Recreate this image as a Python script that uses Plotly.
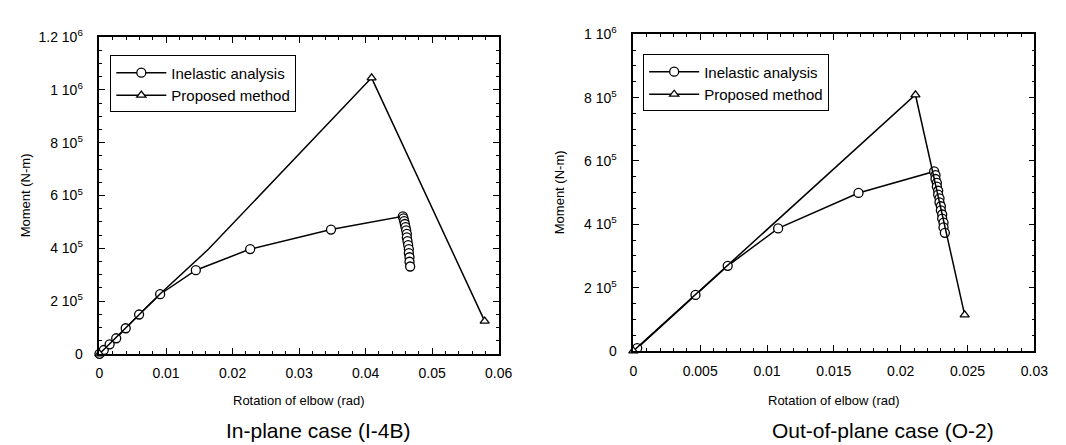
import plotly.graph_objects as go

# ---------------- data ----------------
# In-plane case (I-4B)
inplane_inelastic_x = [0.0, 0.00064, 0.00152, 0.00251, 0.00394, 0.00595, 0.00912, 0.01448, 0.02265, 0.0348,
                       0.0456, 0.0457, 0.0458, 0.0459, 0.0460, 0.0461, 0.0462, 0.0462, 0.0463, 0.0464,
                       0.0465, 0.0465, 0.0466, 0.0466, 0.0467]
inplane_inelastic_y = [0, 14.5e3, 36e3, 59e3, 97e3, 149e3, 226e3, 317e3, 397e3, 471e3,
                       521e3, 513e3, 503e3, 492e3, 480e3, 468e3, 455e3, 441e3, 427e3, 412e3,
                       397e3, 382e3, 366e3, 349e3, 331e3]
inplane_proposed_x = [0.0, 0.0091, 0.0164, 0.0409, 0.0579]
inplane_proposed_y = [0, 227e3, 397e3, 1046e3, 124e3]
# points of the proposed curve that carry a triangle symbol
inplane_proposed_marked_x = [0.0, 0.0409, 0.0579]
inplane_proposed_marked_y = [0, 1046e3, 124e3]

# Out-of-plane case (O-2)
outplane_inelastic_x = [0.00029, 0.00465, 0.00706, 0.01083, 0.01684,
                        0.0225, 0.0226, 0.0226, 0.0227, 0.0227, 0.0228, 0.0228, 0.0229,
                        0.0229, 0.0230, 0.0230, 0.0231, 0.0231, 0.0232, 0.0232, 0.0233]
outplane_inelastic_y = [9e3, 177e3, 269e3, 387e3, 499e3,
                        567e3, 555e3, 543e3, 531e3, 519e3, 506e3, 494e3, 482e3,
                        469e3, 457e3, 444e3, 431e3, 418e3, 405e3, 390e3, 373e3]
outplane_proposed_x = [0.0, 0.0211, 0.02478]
outplane_proposed_y = [0, 809e3, 114e3]

# tick labels
left_xticks = [0, 0.01, 0.02, 0.03, 0.04, 0.05, 0.06]
left_xticklabels = ["0", "0.01", "0.02", "0.03", "0.04", "0.05", "0.06"]
left_yticks = [0, 2e5, 4e5, 6e5, 8e5, 1e6, 1.2e6]
left_yticklabels = ["0", "2 10<sup>5</sup>", "4 10<sup>5</sup>", "6 10<sup>5</sup>",
                    "8 10<sup>5</sup>", "1 10<sup>6</sup>", "1.2 10<sup>6</sup>"]
right_xticks = [0, 0.005, 0.01, 0.015, 0.02, 0.025, 0.03]
right_xticklabels = ["0", "0.005", "0.01", "0.015", "0.02", "0.025", "0.03"]
right_yticks = [0, 2e5, 4e5, 6e5, 8e5, 1e6]
right_yticklabels = ["0", "2 10<sup>5</sup>", "4 10<sup>5</sup>", "6 10<sup>5</sup>",
                     "8 10<sup>5</sup>", "1 10<sup>6</sup>"]

series_names = ["Inelastic analysis", "Proposed method"]
captions = ["In-plane case (I-4B)", "Out-of-plane case (O-2)"]
x_title = "Rotation of elbow (rad)"
y_title = "Moment (N-m)"

FONT = "Liberation Sans, Arial, Helvetica, sans-serif"
LINE = dict(color="black", width=1.5)
CIRC = dict(symbol="circle", size=9, color="white", line=dict(color="black", width=1.3))
TRI = dict(symbol="triangle-up", size=8, color="white", line=dict(color="black", width=1.3))

fig = go.Figure()

# ---- left panel ----
fig.add_trace(go.Scatter(x=inplane_inelastic_x, y=inplane_inelastic_y, mode="lines+markers",
                         name=series_names[0], line=LINE, marker=CIRC, cliponaxis=False,
                         xaxis="x", yaxis="y", legend="legend"))
fig.add_trace(go.Scatter(x=inplane_proposed_x, y=inplane_proposed_y, mode="lines",
                         name=series_names[1], line=LINE, cliponaxis=False, showlegend=False,
                         xaxis="x", yaxis="y"))
fig.add_trace(go.Scatter(x=inplane_proposed_marked_x, y=inplane_proposed_marked_y, mode="markers",
                         name=series_names[1], marker=TRI, cliponaxis=False, showlegend=False,
                         xaxis="x", yaxis="y"))
# legend entry for the proposed curve (line + triangle)
fig.add_trace(go.Scatter(x=[None], y=[None], mode="lines+markers", name=series_names[1],
                         line=LINE, marker=TRI, xaxis="x", yaxis="y", legend="legend"))

# ---- right panel ----
fig.add_trace(go.Scatter(x=outplane_inelastic_x, y=outplane_inelastic_y, mode="lines+markers",
                         name=series_names[0], line=LINE, marker=CIRC, cliponaxis=False,
                         xaxis="x2", yaxis="y2", legend="legend2"))
fig.add_trace(go.Scatter(x=outplane_proposed_x, y=outplane_proposed_y, mode="lines+markers",
                         name=series_names[1], line=LINE, marker=TRI, cliponaxis=False,
                         xaxis="x2", yaxis="y2", legend="legend2"))

def xaxis(domain, anchor, rng, tv, tt, dminor):
    return dict(domain=domain, anchor=anchor, range=rng, tickvals=tv, ticktext=tt,
                showline=True, linecolor="black", linewidth=1.7, mirror="allticks",
                ticks="inside", ticklen=6, tickwidth=1.2, tickcolor="black",
                minor=dict(ticks="inside", ticklen=3, tickwidth=1, tickcolor="black", dtick=dminor, tick0=0),
                showgrid=False, zeroline=False, fixedrange=True,
                tickfont=dict(family=FONT, size=14, color="black"), ticklabelstandoff=6)

def yaxis(domain, anchor, rng, tv, tt, dminor):
    return dict(domain=domain, anchor=anchor, range=rng, tickvals=tv, ticktext=tt,
                showline=True, linecolor="black", linewidth=1.7, mirror="allticks",
                ticks="inside", ticklen=6, tickwidth=1.2, tickcolor="black",
                minor=dict(ticks="inside", ticklen=3, tickwidth=1, tickcolor="black", dtick=dminor, tick0=0),
                showgrid=False, zeroline=False, fixedrange=True,
                tickfont=dict(family=FONT, size=14, color="black"), ticklabelstandoff=12)

W, H = 1066, 445
L1, R1, T1, B1 = 89, 495, 20, 350
L2, R2, T2, B2 = 632, 1040, 17, 347

legend_style = dict(bgcolor="white", bordercolor="black", borderwidth=1,
                    font=dict(family=FONT, size=15, color="black"),
                    xanchor="left", yanchor="top", itemwidth=50, tracegroupgap=0)

fig.update_layout(
    width=W, height=H, margin=dict(l=0, r=0, t=0, b=0),
    paper_bgcolor="white", plot_bgcolor="white",
    xaxis=xaxis([L1 / W, R1 / W], "y", [0, 0.06], left_xticks, left_xticklabels, 0.002),
    yaxis=yaxis([1 - B1 / H, 1 - T1 / H], "x", [0, 1.2e6], left_yticks, left_yticklabels, 5e4),
    xaxis2=xaxis([L2 / W, R2 / W], "y2", [0, 0.03], right_xticks, right_xticklabels, 0.001),
    yaxis2=yaxis([1 - B2 / H, 1 - T2 / H], "x2", [0, 1e6], right_yticks, right_yticklabels, 5e4),
    legend=dict(legend_style, x=100 / W, y=1 - 39 / H),
    legend2=dict(legend_style, x=642 / W, y=1 - 38 / H),
    showlegend=True,
)

ann_font = dict(family=FONT, size=13, color="black")
annotations = [
    dict(text=x_title, x=(L1 + R1) / 2 / W, y=1 - 399 / H, xref="paper", yref="paper",
         showarrow=False, font=ann_font, xanchor="center", yanchor="middle"),
    dict(text=x_title, x=(L2 + R2) / 2 / W, y=1 - 399 / H, xref="paper", yref="paper",
         showarrow=False, font=ann_font, xanchor="center", yanchor="middle"),
    dict(text=y_title, x=14 / W, y=1 - (T1 + B1) / 2 / H, xref="paper", yref="paper", textangle=-90,
         showarrow=False, font=ann_font, xanchor="center", yanchor="middle"),
    dict(text=y_title, x=557 / W, y=1 - (T2 + B2) / 2 / H, xref="paper", yref="paper", textangle=-90,
         showarrow=False, font=ann_font, xanchor="center", yanchor="middle"),
    dict(text=captions[0], x=311 / W, y=1 - 430 / H, xref="paper", yref="paper",
         showarrow=False, font=dict(family=FONT, size=21, color="black"), xanchor="center", yanchor="middle"),
    dict(text=captions[1], x=886 / W, y=1 - 430 / H, xref="paper", yref="paper",
         showarrow=False, font=dict(family=FONT, size=21, color="black"), xanchor="center", yanchor="middle"),
]
fig.update_layout(annotations=annotations)

fig.write_html("out.html")
